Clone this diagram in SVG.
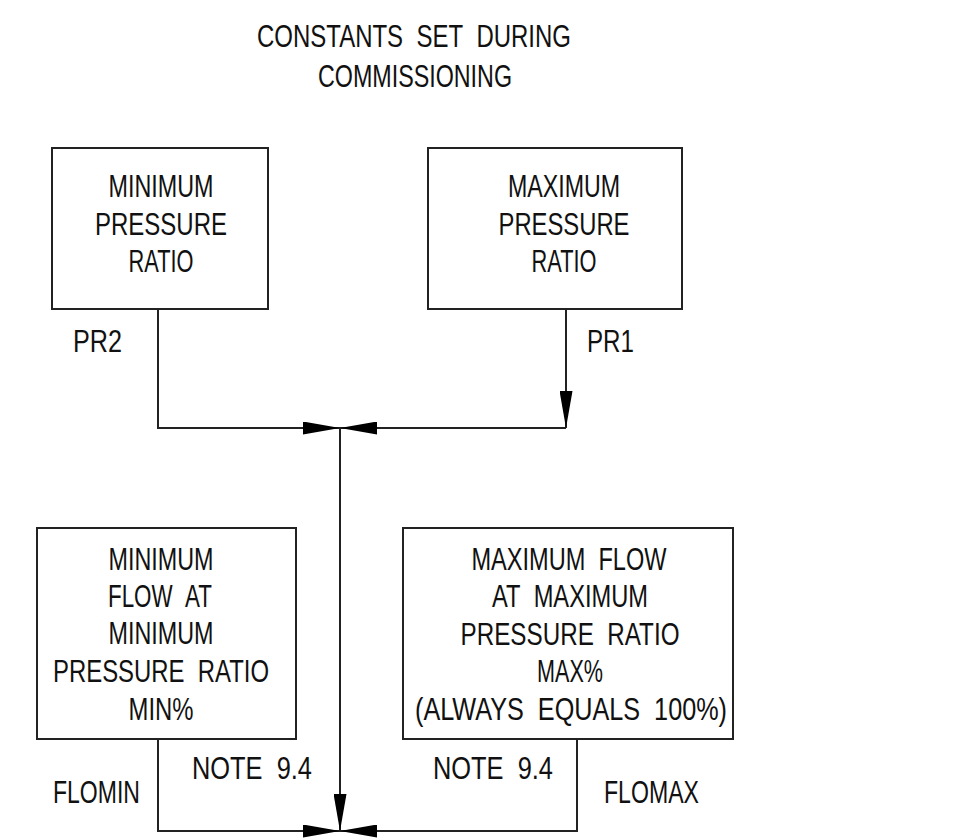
<svg xmlns="http://www.w3.org/2000/svg" width="975" height="838" viewBox="0 0 975 838">
<style>
text{font-family:"Liberation Sans",Arial,sans-serif;font-size:32px;fill:#111;text-anchor:middle;white-space:pre}
.l{text-anchor:start}
rect{fill:none;stroke:#222;stroke-width:2}
.c{fill:none;stroke:#222;stroke-width:2}
</style>
<defs>
<marker id="ah" viewBox="0 0 37 13" refX="37" refY="6.5" markerWidth="37" markerHeight="13" markerUnits="userSpaceOnUse" orient="auto">
<path d="M0,0 L37,6.5 L0,13 Z" fill="#000"/>
</marker>
</defs>
<rect x="0" y="0" width="975" height="838" style="fill:#fff;stroke:none"/>
<g id="title">
<text x="414" y="47" textLength="314" lengthAdjust="spacingAndGlyphs">CONSTANTS&#160;&#160;SET&#160;&#160;DURING</text>
<text x="415" y="87" textLength="194" lengthAdjust="spacingAndGlyphs">COMMISSIONING</text>
</g>
<g id="minPR">
<rect x="52" y="148" width="216" height="161"/>
<text x="161" y="197" textLength="105" lengthAdjust="spacingAndGlyphs">MINIMUM</text>
<text x="161" y="235" textLength="132" lengthAdjust="spacingAndGlyphs">PRESSURE</text>
<text x="161" y="272" textLength="65" lengthAdjust="spacingAndGlyphs">RATIO</text>
</g>
<g id="maxPR">
<rect x="428" y="148" width="254" height="161"/>
<text x="564" y="197" textLength="112" lengthAdjust="spacingAndGlyphs">MAXIMUM</text>
<text x="564" y="235" textLength="131" lengthAdjust="spacingAndGlyphs">PRESSURE</text>
<text x="564" y="272" textLength="65" lengthAdjust="spacingAndGlyphs">RATIO</text>
</g>
<g id="minFlow">
<rect x="37" y="528" width="259" height="211"/>
<text x="161" y="570" textLength="105" lengthAdjust="spacingAndGlyphs">MINIMUM</text>
<text x="160" y="607" textLength="104" lengthAdjust="spacingAndGlyphs">FLOW&#160;&#160;AT</text>
<text x="161" y="644" textLength="105" lengthAdjust="spacingAndGlyphs">MINIMUM</text>
<text x="161" y="682" textLength="216" lengthAdjust="spacingAndGlyphs">PRESSURE&#160;&#160;RATIO</text>
<text x="161" y="720" textLength="65" lengthAdjust="spacingAndGlyphs">MIN%</text>
</g>
<g id="maxFlow">
<rect x="403" y="528" width="330" height="211"/>
<text x="569" y="570" textLength="195" lengthAdjust="spacingAndGlyphs">MAXIMUM&#160;&#160;FLOW</text>
<text x="570" y="607" textLength="156" lengthAdjust="spacingAndGlyphs">AT&#160;&#160;MAXIMUM</text>
<text x="570" y="645" textLength="219" lengthAdjust="spacingAndGlyphs">PRESSURE&#160;&#160;RATIO</text>
<text x="570" y="682" textLength="66" lengthAdjust="spacingAndGlyphs">MAX%</text>
<text x="571" y="720" textLength="312" lengthAdjust="spacingAndGlyphs">(ALWAYS&#160;&#160;EQUALS&#160;&#160;100%)</text>
</g>
<g id="connectors">
<path class="c" d="M158,309 V428 H340" marker-end="url(#ah)"/>
<path class="c" d="M566,309 V428" marker-end="url(#ah)"/>
<path class="c" d="M566,428 H340" marker-end="url(#ah)"/>
<path class="c" d="M340,428 V831" marker-end="url(#ah)"/>
<path class="c" d="M158,739 V831 H340" marker-end="url(#ah)"/>
<path class="c" d="M577,739 V831 H340" marker-end="url(#ah)"/>
</g>
<g id="labels">
<text class="l" x="73" y="352" textLength="49" lengthAdjust="spacingAndGlyphs">PR2</text>
<text class="l" x="587" y="352" textLength="47" lengthAdjust="spacingAndGlyphs">PR1</text>
<text class="l" x="53" y="803" textLength="87" lengthAdjust="spacingAndGlyphs">FLOMIN</text>
<text class="l" x="192" y="779" textLength="120" lengthAdjust="spacingAndGlyphs">NOTE&#160;&#160;9.4</text>
<text class="l" x="433" y="779" textLength="120" lengthAdjust="spacingAndGlyphs">NOTE&#160;&#160;9.4</text>
<text class="l" x="604" y="803" textLength="95" lengthAdjust="spacingAndGlyphs">FLOMAX</text>
</g>
</svg>
